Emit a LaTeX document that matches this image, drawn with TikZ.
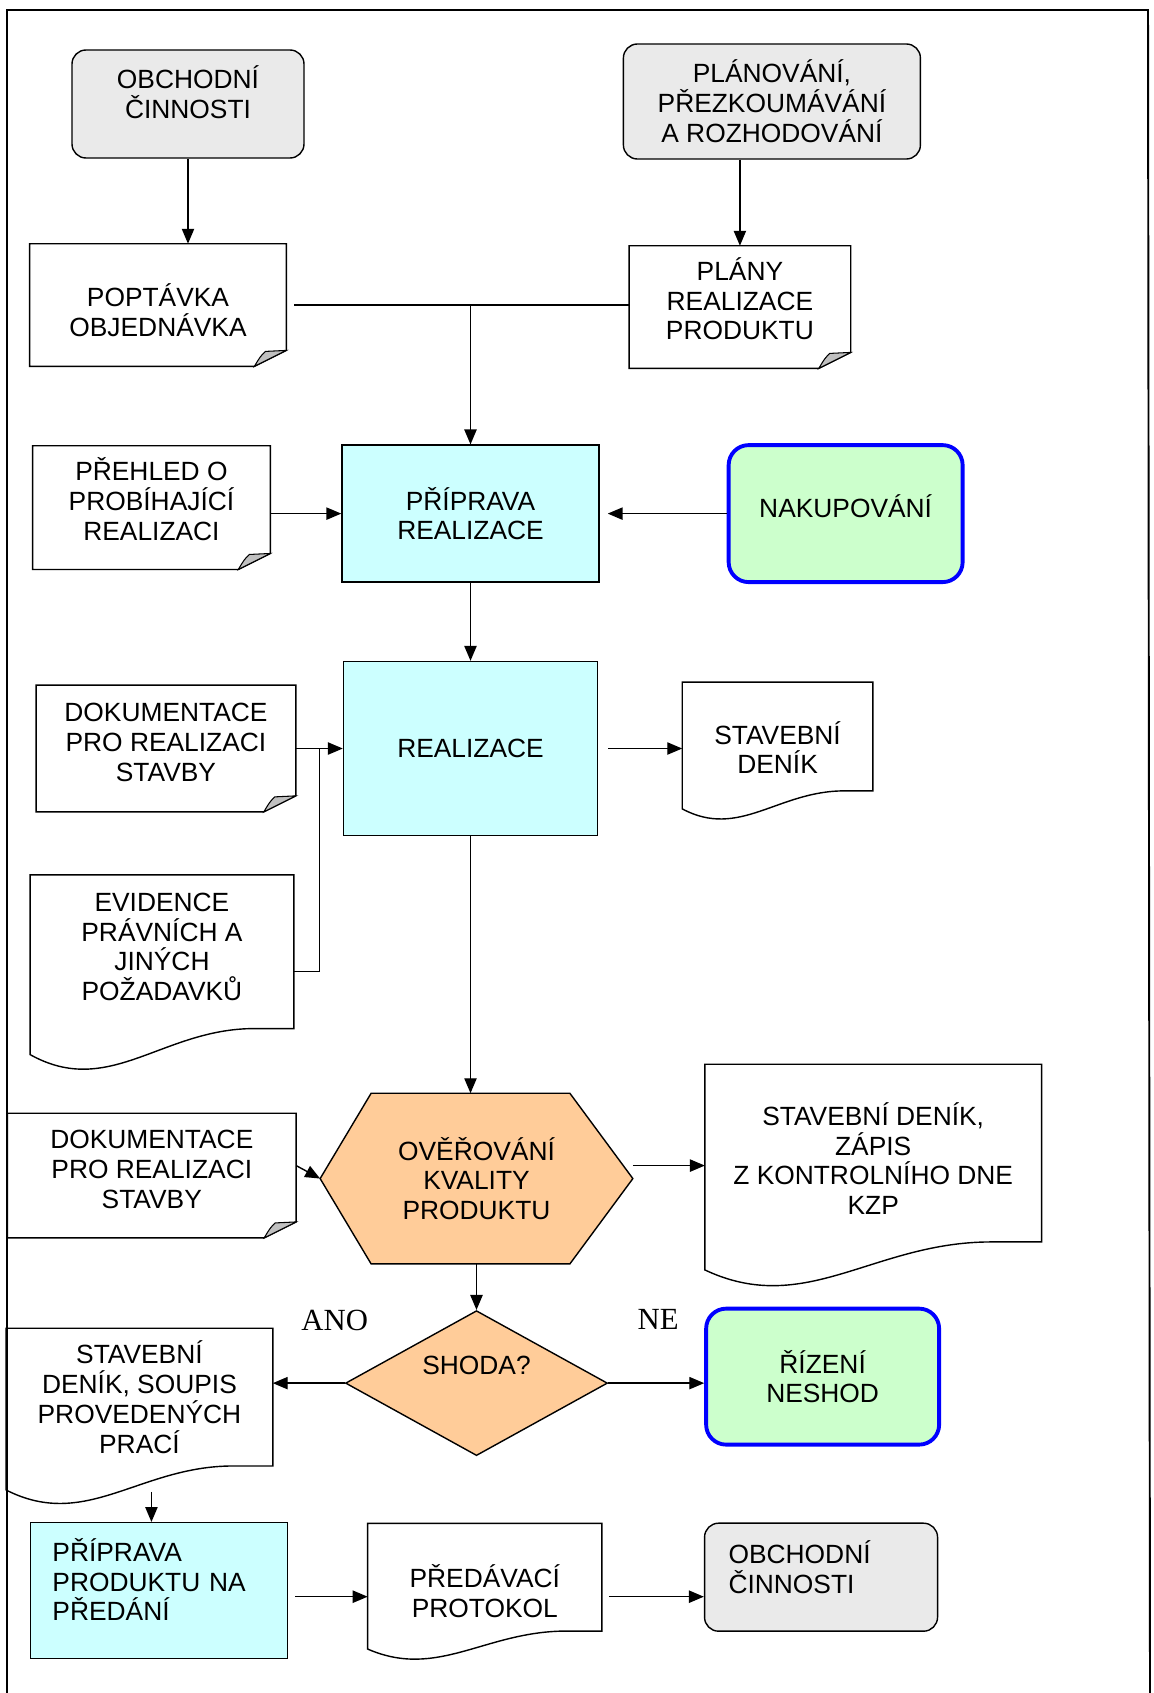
\documentclass[tikz,border=0pt]{standalone}
\usepackage[usenames,dvipsnames]{xcolor}
\usepackage{fontspec}
\setmainfont{Liberation Sans}
\newfontfamily\timesfont{Liberation Serif}
\usepackage{tikz}
\usetikzlibrary{arrows.meta,shapes.geometric,positioning,calc,backgrounds}

\definecolor{graybox}{HTML}{EAEAEA}
\definecolor{cyanbox}{HTML}{CCFFFF}
\definecolor{greenbox}{HTML}{CCFFCC}
\definecolor{orangebox}{HTML}{FFCC99}
\definecolor{foldgray}{HTML}{C0C0C0}

\newcommand{\DocFold}[1]{%
  \draw[outl] (#1.north west) -- (#1.north east) -- ([yshift=0.32cm]#1.south east)
    -- ([xshift=-0.64cm]#1.south east) -- (#1.south west) -- cycle;
  \filldraw[outl, line width=0.6pt, fill=foldgray] ([xshift=-0.64cm]#1.south east)
    .. controls ([xshift=-0.52cm,yshift=0.2cm]#1.south east) .. ([xshift=-0.42cm,yshift=0.3cm]#1.south east)
    -- ([yshift=0.32cm]#1.south east) -- cycle;
}
\newcommand{\DocWave}[2]{%
  \draw[outl] (#1.south east) -- (#1.north east) -- (#1.north west) -- ([yshift=-#2]#1.south west)
    .. controls ($(#1.south west)!0.3!(#1.south east)+(0,-2.7*#2)$)
    and ($(#1.south west)!0.5!(#1.south east)$) .. ($(#1.south west)!0.85!(#1.south east)$) -- cycle;
}

\begin{document}
\begin{tikzpicture}[
    outl/.style={draw=black, line width=0.8pt},
    arr/.style={outl, -{Triangle[length=8.5pt,width=7pt]}},
    every node/.style={font=\fontsize{15}{17}\selectfont, align=center, inner sep=2pt},
    proc/.style={rectangle, outl, fill=cyanbox},
    act/.style={rectangle, rounded corners=0.28cm, outl, fill=graybox},
    ext/.style={rectangle, rounded corners=0.4cm, draw=blue, line width=2.2pt, fill=greenbox},
    doc/.style={rectangle},
    yesno/.style={font=\timesfont\fontsize{17.5}{20}\selectfont}
]
    \useasboundingbox (0,0) rectangle (23.06,-33.86);
    \draw[line width=1.1pt] (0.14,-33.86) -- (0.14,-0.2) -- (22.96,-0.2) -- (23.0,-33.86);

    \node[act, minimum width=4.64cm, minimum height=2.16cm] (obch1) at (3.76,-2.08) {OBCHODNÍ\\ČINNOSTI\\[-0.12cm]\mbox{}};
    \node[act, minimum width=5.94cm, minimum height=2.3cm, right=6.36cm of obch1, yshift=0.05cm] (plan) {PLÁNOVÁNÍ,\\PŘEZKOUMÁVÁNÍ\\A ROZHODOVÁNÍ};
    \node[doc, minimum width=5.12cm, minimum height=2.44cm, below=1.7cm of obch1, xshift=-0.6cm] (popt) {\mbox{}\\[0.08cm]POPTÁVKA\\OBJEDNÁVKA};
    \node[doc, minimum width=4.42cm, minimum height=2.44cm, below=1.72cm of plan, xshift=-0.64cm] (plany) {PLÁNY\\REALIZACE\\PRODUKTU\\[-0.26cm]\mbox{}};
    \node[proc, minimum width=5.14cm, minimum height=2.74cm, below=1.56cm of popt, xshift=6.25cm] (prip) {PŘÍPRAVA\\REALIZACE};
    \node[doc, minimum width=4.74cm, minimum height=2.46cm, left=1.42cm of prip, yshift=0.12cm] (preh) {PŘEHLED O\\PROBÍHAJÍCÍ\\REALIZACI\\[-0.26cm]\mbox{}};
    \node[ext, minimum width=4.68cm, minimum height=2.74cm, right=2.54cm of prip] (nak) {NAKUPOVÁNÍ\\[-0.3cm]\mbox{}};
    \node[proc, minimum width=5.08cm, minimum height=3.48cm, below=1.56cm of prip] (real) {REALIZACE};
    \node[doc, minimum width=5.18cm, minimum height=2.52cm, left=0.94cm of real] (dok1) {DOKUMENTACE\\PRO REALIZACI\\STAVBY\\[-0.34cm]\mbox{}};
    \node[doc, minimum width=3.8cm, minimum height=2.16cm, right=1.68cm of real, yshift=0.24cm] (stav1) {\mbox{}\\[0.3cm]STAVEBNÍ\\DENÍK};
    \node[doc, minimum width=5.26cm, minimum height=3.06cm, below=1.26cm of dok1, xshift=-0.08cm] (evid) {EVIDENCE\\PRÁVNÍCH A\\JINÝCH\\POŽADAVKŮ\\[-0.4cm]\mbox{}};
    \node[doc, minimum width=6.24cm, minimum height=3.4cm, below=5.14cm of real, xshift=0.12cm] (hex) {OVĚŘOVÁNÍ\\KVALITY\\PRODUKTU};
    \node[doc, minimum width=5.76cm, minimum height=2.48cm, left=0.48cm of hex, yshift=0.06cm] (dok2) {DOKUMENTACE\\PRO REALIZACI\\STAVBY\\[-0.34cm]\mbox{}};
    \node[doc, minimum width=6.72cm, minimum height=3.54cm, right=1.44cm of hex, yshift=0.51cm] (zapis) {\mbox{}\\[0.08cm]STAVEBNÍ DENÍK,\\ZÁPIS\\Z KONTROLNÍHO DNE\\KZP};
    \node[diamond, outl, fill=orangebox, aspect=1.8, inner sep=0pt, minimum width=5.24cm, minimum height=2.9cm, text depth=0.7cm, below=0.92cm of hex] (shoda) {SHODA?};
    \node[doc, minimum width=5.32cm, minimum height=2.74cm, left=1.44cm of shoda, yshift=-0.28cm] (soupis) {STAVEBNÍ\\DENÍK, SOUPIS\\PROVEDENÝCH\\PRACÍ};
    \node[ext, minimum width=4.66cm, minimum height=2.72cm, right=1.92cm of shoda, yshift=0.13cm] (rizeni) {ŘÍZENÍ\\NESHOD};
    \node[proc, minimum width=5.14cm, minimum height=2.72cm, text width=4.26cm, align=left, below=1.12cm of soupis, xshift=0.39cm] (pprod) {PŘÍPRAVA\\PRODUKTU NA\\PŘEDÁNÍ\\[-0.15cm]\mbox{}};
    \node[doc, minimum width=4.67cm, minimum height=2.14cm, right=1.59cm of pprod, yshift=0.27cm] (pred) {\mbox{}\\[0.42cm]PŘEDÁVACÍ\\PROTOKOL};
    \node[act, minimum width=4.66cm, minimum height=2.16cm, text width=3.7cm, align=left, right=2.04cm of pred] (obch2) {OBCHODNÍ\\ČINNOSTI\\[-0.2cm]\mbox{}};
    \node[yesno] (ano) at ([xshift=-0.2cm,yshift=1.25cm]shoda.west) {ANO};
    \node[yesno] (ne) at ([xshift=1cm,yshift=1.27cm]shoda.east) {NE};

    \DocFold{popt}
    \DocFold{plany}
    \DocFold{preh}
    \DocFold{dok1}
    \DocFold{dok2}
    \DocWave{stav1}{0.36cm}
    \DocWave{evid}{0.52cm}
    \DocWave{zapis}{0.56cm}
    \DocWave{soupis}{0.48cm}
    \DocWave{pred}{0.36cm}
    \begin{scope}[on background layer]
        \filldraw[outl, fill=orangebox] (hex.west) -- ([xshift=1.02cm]hex.north west) -- ([xshift=-1.26cm]hex.north east)
            -- (hex.east) -- ([xshift=-1.26cm]hex.south east) -- ([xshift=1.02cm]hex.south west) -- cycle;
    \end{scope}

    \draw[arr] (obch1.south) -- (obch1.south |- popt.north);
    \draw[arr] (plan.south -| plany.north) -- (plany.north);
    \draw[outl] ([xshift=0.16cm]popt.east) -- (popt.east -| plany.west);
    \coordinate (jn) at (popt.east -| prip.north);
    \draw[arr] (jn) -- (prip.north);
    \draw[arr] (preh.east |- prip.west) -- (prip.west);
    \draw[arr, shorten >=0.16cm] (nak.west) -- (prip.east);
    \draw[arr] (prip.south) -- (real.north);
    \draw[arr] (dok1.east) -- (real.west);
    \coordinate (jr) at ($(dok1.east)!0.5!(real.west)$);
    \draw[outl] ([yshift=-0.4cm]evid.east) -| (jr);
    \draw[arr, shorten <=0.2cm] (real.east) -- (real.east -| stav1.west);
    \draw[arr] (real.south) -- (real.south |- hex.north);
    \draw[arr] ([yshift=0.2cm]dok2.east) -- (hex.west);
    \draw[arr] ([yshift=0.26cm]hex.east) coordinate (hx) -- (hx -| zapis.west);
    \draw[arr] (hex.south) -- (shoda.north);
    \draw[arr] (shoda.west) -- (shoda.west -| soupis.east);
    \draw[arr] (shoda.east) -- (shoda.east -| rizeni.west);
    \draw[arr] ([xshift=0.24cm,yshift=-0.52cm]soupis.south) coordinate (sp) -- (sp |- pprod.north);
    \draw[arr, shorten <=0.14cm] ([yshift=-0.12cm]pprod.east) coordinate (pp) -- (pp -| pred.west);
    \draw[arr, shorten <=0.14cm] (pp -| pred.east) -- (pp -| obch2.west);
\end{tikzpicture}
\end{document}
